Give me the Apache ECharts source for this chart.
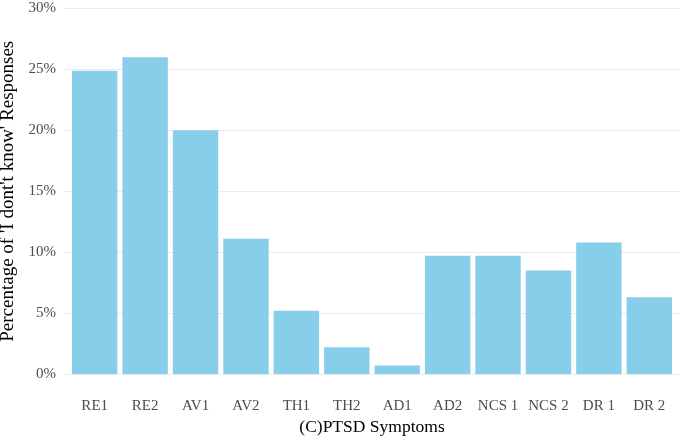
<!DOCTYPE html>
<html><head><meta charset="utf-8">
<script src="https://cdn.jsdelivr.net/npm/echarts@6/dist/echarts.min.js"></script>
<style>html,body{margin:0;padding:0;background:#fff}#c{width:685px;height:438px}</style>
</head><body><div id="c"></div>
<script>
var categories = ['RE1','RE2','AV1','AV2','TH1','TH2','AD1','AD2','NCS 1','NCS 2','DR 1','DR 2'];
var values = [24.9, 26.0, 20.0, 11.1, 5.2, 2.2, 0.7, 9.7, 9.7, 8.5, 10.8, 6.3];
var yTicks = [0, 5, 10, 15, 20, 25, 30];

var font = '"Liberation Serif", "Times New Roman", serif';
var chart = echarts.init(document.getElementById('c'), null, {renderer:'canvas'});
chart.setOption({
  animation: false,
  backgroundColor: '#fff',
  grid: [
    {left: 64, right: 5, top: 8.5, bottom: 64, containLabel: false, outerBoundsMode: 'none'},
    {left: 69.5, right: 10.5, top: 8.5, bottom: 64, containLabel: false, outerBoundsMode: 'none'}
  ],
  xAxis: [
    {gridIndex: 0, type: 'value', min: 0, max: 1, show: false},
    {gridIndex: 1, type: 'category', data: categories,
     axisLine: {show: false}, axisTick: {show: false},
     axisLabel: {color: '#4d4d4d', fontFamily: font, fontSize: 15, margin: 25, interval: 0},
     name: '(C)PTSD Symptoms', nameLocation: 'middle', nameGap: 43,
     nameTextStyle: {color: '#000', fontFamily: font, fontSize: 17.5}}
  ],
  yAxis: [
    {gridIndex: 0, type: 'value', min: yTicks[0], max: yTicks[yTicks.length-1], interval: 5,
     axisLine: {show: false}, axisTick: {show: false},
     axisLabel: {color: '#4d4d4d', fontFamily: font, fontSize: 15, margin: 8, formatter: '{value}%'},
     splitLine: {lineStyle: {color: '#ebebeb', width: 1}},
     name: "Percentage of 'I dont't know' Responses", nameLocation: 'middle', nameGap: 41,
     nameTextStyle: {color: '#000', fontFamily: font, fontSize: 19}},
    {gridIndex: 1, type: 'value', min: 0, max: 30, show: false}
  ],
  series: [{
    type: 'bar', xAxisIndex: 1, yAxisIndex: 1, data: values,
    barWidth: '90%', itemStyle: {color: '#87CEEB'}
  }]
});
</script></body></html>
